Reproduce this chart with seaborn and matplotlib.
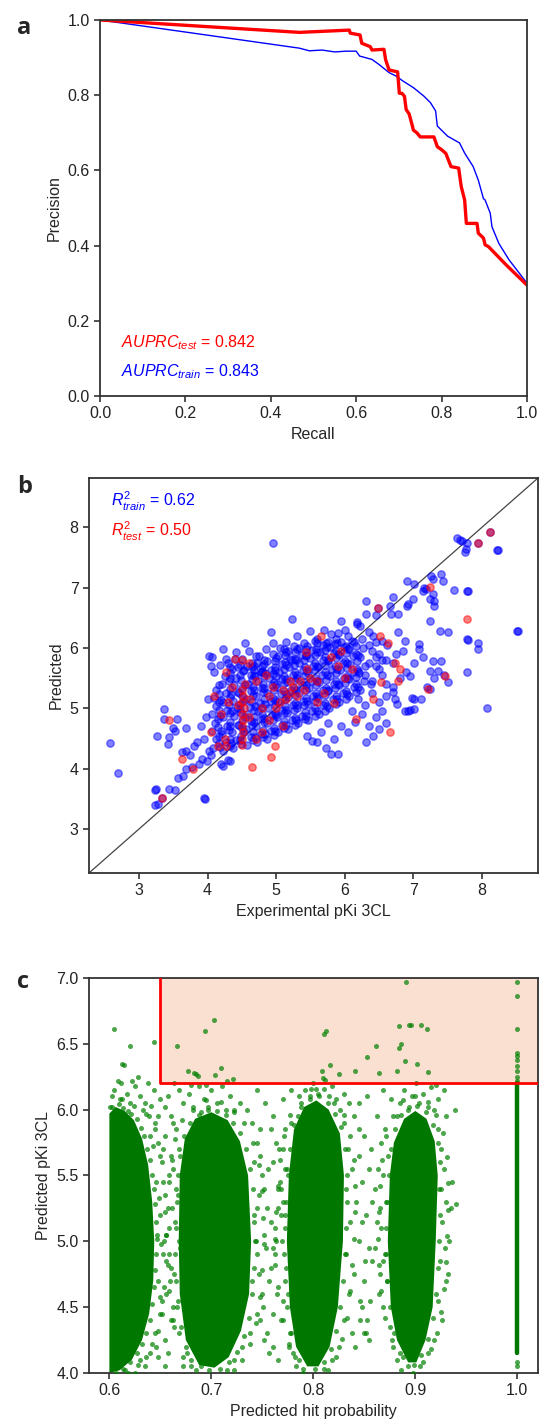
"""Precision-recall, parity plot and hit-probability scatter (3 panels)"""
import numpy as np
import matplotlib
matplotlib.use("Agg")
import matplotlib.pyplot as plt
import seaborn as sns

# ---- panel a: precision-recall curves ----
test_recall = [0.0, 0.467, 0.584, 0.586, 0.609, 0.613, 0.633, 0.637, 0.665, 0.669, 0.677,
               0.697, 0.701, 0.707, 0.713, 0.717, 0.724, 0.730, 0.734, 0.742, 0.750, 0.782,
               0.790, 0.800, 0.810, 0.822, 0.840, 0.846, 0.854, 0.858, 0.883, 0.886, 0.898,
               0.902, 0.910, 0.950, 1.0]
test_precision = [1.0, 0.967, 0.973, 0.965, 0.960, 0.938, 0.929, 0.920, 0.922, 0.894, 0.867,
                  0.862, 0.805, 0.805, 0.797, 0.762, 0.750, 0.725, 0.707, 0.700, 0.689, 0.689,
                  0.663, 0.655, 0.645, 0.610, 0.606, 0.557, 0.521, 0.459, 0.459, 0.433, 0.420,
                  0.402, 0.397, 0.350, 0.295]
train_recall = [0.0, 0.467, 0.49, 0.52, 0.55, 0.576, 0.60, 0.608, 0.637, 0.653, 0.677, 0.693,
                0.709, 0.734, 0.758, 0.774, 0.786, 0.790, 0.814, 0.842, 0.854, 0.874, 0.886,
                0.898, 0.902, 0.914, 0.918, 0.934, 0.958, 1.0]
train_precision = [1.0, 0.925, 0.918, 0.920, 0.915, 0.917, 0.917, 0.904, 0.895, 0.882, 0.860,
                   0.851, 0.838, 0.820, 0.798, 0.780, 0.758, 0.718, 0.691, 0.673, 0.646, 0.610,
                   0.574, 0.525, 0.521, 0.486, 0.450, 0.406, 0.362, 0.300]

# ---- panel b: experimental vs predicted pKi ----
train_core = [
    (4.08, 4.35), (4.12, 4.50), (4.06, 4.62), (4.11, 4.76), (4.07, 4.90), (4.13, 5.04), (4.09, 5.18), (4.12, 5.31),
    (4.22, 4.30), (4.27, 4.44), (4.21, 4.58), (4.28, 4.71), (4.23, 4.85), (4.29, 4.98), (4.22, 5.11), (4.27, 5.25),
    (4.21, 5.40), (4.26, 5.54), (4.37, 4.35), (4.42, 4.48), (4.36, 4.61), (4.44, 4.73), (4.38, 4.87), (4.43, 5.00),
    (4.37, 5.13), (4.44, 5.27), (4.39, 5.39), (4.42, 5.51), (4.36, 5.65), (4.57, 4.40), (4.63, 4.53), (4.56, 4.66),
    (4.64, 4.79), (4.58, 4.91), (4.62, 5.03), (4.56, 5.16), (4.64, 5.29), (4.59, 5.41), (4.63, 5.55), (4.57, 5.70),
    (4.72, 4.45), (4.78, 4.58), (4.71, 4.71), (4.79, 4.83), (4.73, 4.96), (4.77, 5.09), (4.71, 5.21), (4.79, 5.33),
    (4.74, 5.46), (4.78, 5.61), (4.72, 5.75), (4.87, 4.50), (4.93, 4.63), (4.86, 4.76), (4.94, 4.89), (4.88, 5.01),
    (4.92, 5.13), (4.86, 5.26), (4.94, 5.39), (4.89, 5.51), (4.93, 5.63), (4.87, 5.78), (5.02, 4.60), (5.08, 4.73),
    (5.01, 4.86), (5.09, 4.98), (5.03, 5.11), (5.07, 5.23), (5.01, 5.36), (5.09, 5.49), (5.04, 5.61), (5.08, 5.73),
    (5.02, 5.86), (5.17, 4.66), (5.23, 4.80), (5.16, 4.93), (5.24, 5.06), (5.18, 5.19), (5.22, 5.31), (5.16, 5.43),
    (5.24, 5.56), (5.19, 5.69), (5.23, 5.81), (5.17, 5.95), (5.32, 4.75), (5.38, 4.88), (5.31, 5.01), (5.39, 5.13),
    (5.33, 5.26), (5.37, 5.39), (5.31, 5.51), (5.39, 5.63), (5.34, 5.76), (5.38, 5.89), (5.33, 6.00), (5.47, 4.81),
    (5.53, 4.95), (5.46, 5.08), (5.54, 5.21), (5.48, 5.33), (5.52, 5.46), (5.46, 5.59), (5.54, 5.71), (5.49, 5.83),
    (5.53, 5.96), (5.62, 4.90), (5.68, 5.05), (5.61, 5.18), (5.69, 5.31), (5.63, 5.43), (5.67, 5.56), (5.61, 5.69),
    (5.69, 5.81), (5.64, 5.93), (5.68, 6.05), (5.77, 5.00), (5.83, 5.15), (5.76, 5.28), (5.84, 5.41), (5.78, 5.53),
    (5.82, 5.66), (5.76, 5.79), (5.84, 5.91), (5.79, 6.02), (5.92, 5.10), (5.98, 5.25), (5.91, 5.38), (5.99, 5.51),
    (5.93, 5.63), (5.97, 5.76), (5.91, 5.89), (5.99, 6.01), (5.94, 6.10), (6.07, 5.20), (6.13, 5.35), (6.06, 5.48),
    (6.14, 5.61), (6.08, 5.73), (6.12, 5.86), (6.06, 5.98), (6.13, 6.10), (6.22, 5.30), (6.28, 5.45), (6.21, 5.58),
    (6.29, 5.71), (6.23, 5.85), (6.27, 6.00),
]
train_core2 = [
    (4.16, 4.42), (4.15, 4.69), (4.17, 4.97), (4.16, 5.24), (4.32, 4.37), (4.31, 4.64), (4.33, 4.92), (4.32, 5.19),
    (4.31, 5.46), (4.49, 4.41), (4.50, 4.67), (4.48, 4.94), (4.50, 5.20), (4.49, 5.47), (4.51, 5.62), (4.66, 4.47),
    (4.65, 4.73), (4.67, 4.98), (4.66, 5.22), (4.65, 5.48), (4.67, 5.64), (4.81, 4.52), (4.82, 4.77), (4.80, 5.03),
    (4.81, 5.27), (4.82, 5.53), (4.80, 5.70), (4.97, 4.56), (4.96, 4.81), (4.98, 5.06), (4.97, 5.31), (4.96, 5.57),
    (4.98, 5.79), (5.12, 4.67), (5.11, 4.92), (5.13, 5.16), (5.12, 5.42), (5.11, 5.66), (5.13, 5.88), (5.27, 4.72),
    (5.26, 4.97), (5.28, 5.22), (5.27, 5.47), (5.26, 5.72), (5.28, 5.93), (5.42, 4.82), (5.41, 5.06), (5.43, 5.31),
    (5.42, 5.56), (5.41, 5.80), (5.43, 5.98), (5.57, 4.88), (5.56, 5.13), (5.58, 5.38), (5.57, 5.63), (5.56, 5.88),
    (5.72, 4.96), (5.71, 5.22), (5.73, 5.47), (5.72, 5.72), (5.71, 5.97), (5.87, 5.07), (5.86, 5.33), (5.88, 5.58),
    (5.87, 5.83), (5.86, 6.06), (6.02, 5.16), (6.01, 5.42), (6.03, 5.67), (6.02, 5.92), (6.17, 5.27), (6.16, 5.52),
    (6.18, 5.78), (6.17, 6.03),
]
train_core3 = [
    (4.16, 4.55), (4.15, 4.83), (4.17, 5.10), (4.16, 5.38), (4.32, 4.50), (4.33, 4.78), (4.31, 5.05), (4.32, 5.32),
    (4.33, 5.58), (4.49, 4.54), (4.50, 4.80), (4.48, 5.07), (4.50, 5.33), (4.48, 5.72), (4.66, 4.60), (4.67, 4.86),
    (4.65, 5.10), (4.66, 5.35), (4.67, 5.56), (4.65, 5.76), (4.81, 4.64), (4.80, 4.90), (4.82, 5.15), (4.81, 5.40),
    (4.80, 5.62), (4.82, 5.80), (4.97, 4.68), (4.98, 4.93), (4.96, 5.18), (4.97, 5.44), (4.98, 5.68), (4.96, 5.90),
    (5.12, 4.79), (5.13, 5.04), (5.11, 5.29), (5.12, 5.54), (5.13, 5.77), (5.11, 5.98), (5.27, 4.84), (5.28, 5.09),
    (5.26, 5.34), (5.27, 5.60), (5.28, 5.82), (5.26, 6.03), (5.42, 4.94), (5.43, 5.18), (5.41, 5.43), (5.42, 5.68),
    (5.43, 5.89), (5.41, 6.08), (5.57, 5.00), (5.58, 5.25), (5.56, 5.50), (5.57, 5.75), (5.58, 5.98), (5.56, 6.12),
    (5.72, 5.09), (5.73, 5.34), (5.71, 5.60), (5.72, 5.85), (5.73, 6.08), (5.87, 5.20), (5.88, 5.45), (5.86, 5.70),
    (5.87, 5.95), (5.88, 6.15), (6.02, 5.29), (6.03, 5.54), (6.01, 5.79), (6.02, 6.04), (6.17, 5.40), (6.18, 5.65),
    (6.16, 5.90),
]
train_core4 = [
    (4.18, 4.36), (4.19, 4.62), (4.18, 4.88), (4.19, 5.14), (4.34, 4.43), (4.33, 4.70), (4.35, 4.96), (4.34, 5.24),
    (4.33, 5.50), (4.47, 4.47), (4.46, 4.73), (4.47, 4.99), (4.46, 5.26), (4.47, 5.55), (4.53, 4.60), (4.54, 4.86),
    (4.53, 5.12), (4.54, 5.38), (4.53, 5.64), (4.69, 4.52), (4.68, 4.78), (4.69, 5.04), (4.68, 5.30), (4.69, 5.54),
    (4.68, 5.70), (4.84, 4.58), (4.83, 4.84), (4.84, 5.08), (4.83, 5.34), (4.84, 5.58), (4.83, 5.74), (4.99, 4.63),
    (5.00, 4.89), (4.99, 5.14), (5.00, 5.40), (4.99, 5.64), (5.00, 5.84), (5.14, 4.72), (5.15, 4.98), (5.14, 5.24),
    (5.15, 5.48), (5.14, 5.72), (5.15, 5.93), (5.29, 4.80), (5.30, 5.05), (5.29, 5.30), (5.30, 5.56), (5.29, 5.80),
    (5.30, 5.98), (5.44, 4.88), (5.45, 5.12), (5.44, 5.38), (5.45, 5.62), (5.44, 5.86), (5.45, 6.04), (5.59, 4.95),
    (5.60, 5.20), (5.59, 5.45), (5.60, 5.70), (5.59, 5.93), (5.60, 6.08), (5.74, 5.04), (5.75, 5.30), (5.74, 5.55),
    (5.75, 5.80), (5.74, 6.02), (5.89, 5.15), (5.90, 5.40), (5.89, 5.65), (5.90, 5.90), (5.89, 6.08), (6.04, 5.24),
    (6.05, 5.50), (6.04, 5.75), (6.05, 5.98), (6.19, 5.35), (6.20, 5.62), (6.19, 5.88),
]
train_outer = [
    (2.58, 4.43), (2.70, 3.92), (3.23, 3.40), (3.27, 3.41), (3.23, 3.65), (3.25, 3.66), (3.44, 3.66), (3.53, 3.64),
    (3.95, 3.51), (3.96, 3.50), (3.26, 4.55), (3.37, 4.99), (3.37, 4.83), (3.56, 4.83), (3.49, 4.67), (3.52, 4.63),
    (3.69, 4.67), (3.43, 4.52), (3.42, 4.41), (3.57, 3.84), (3.64, 3.88), (3.69, 3.99), (3.77, 4.02), (3.87, 4.08),
    (3.92, 4.16), (3.99, 4.13), (3.69, 4.30), (3.80, 4.38), (4.02, 4.30), (4.05, 4.22), (4.20, 4.08), (4.22, 4.05),
    (4.32, 4.13), (4.30, 4.15), (3.62, 4.28), (3.75, 4.22), (3.85, 4.45), (3.95, 4.50), (3.90, 4.70), (3.98, 4.85),
    (4.00, 5.15), (3.33, 3.52), (4.02, 5.87), (4.07, 5.85), (4.22, 5.98), (4.42, 5.93), (4.27, 5.82), (4.30, 5.76),
    (4.40, 5.82), (4.50, 5.82), (4.70, 5.87), (4.75, 5.87), (4.10, 5.60), (4.32, 5.68), (4.45, 5.68), (4.65, 5.68),
    (4.80, 5.60), (4.55, 6.09), (4.95, 6.09), (4.93, 6.26), (5.00, 5.54), (5.20, 5.82), (4.18, 5.72), (4.05, 5.70),
    (4.60, 5.95), (4.85, 5.98), (5.05, 6.00), (5.15, 6.10), (5.30, 6.20), (5.23, 6.48), (4.96, 7.75), (5.50, 6.29),
    (5.80, 6.23), (5.60, 6.15), (5.70, 6.30), (5.75, 6.10), (5.90, 6.25), (6.00, 6.30), (5.95, 6.45), (6.05, 6.20),
    (6.11, 6.12), (6.18, 6.40), (6.18, 6.43), (6.23, 6.37), (6.36, 6.26), (6.41, 6.20), (6.31, 6.78), (6.46, 6.54),
    (6.31, 6.56), (6.25, 6.15), (6.35, 6.05), (6.45, 6.10), (6.55, 6.12), (6.62, 6.05), (6.66, 6.70), (6.68, 6.56),
    (6.78, 6.56), (6.71, 6.84), (6.78, 6.26), (6.88, 6.12), (6.91, 6.70), (6.93, 6.73), (7.00, 6.81), (6.91, 7.12),
    (7.01, 7.06), (7.14, 6.95), (7.16, 7.00), (7.19, 6.98), (7.26, 7.20), (7.29, 7.14), (7.41, 7.23), (7.44, 7.12),
    (7.24, 6.81), (7.29, 6.90), (7.31, 6.78), (7.31, 6.70), (7.24, 6.45), (7.59, 6.97), (7.79, 6.95), (7.80, 6.94),
    (7.39, 6.29), (7.51, 6.26), (7.79, 6.15), (7.80, 6.14), (7.94, 6.09), (7.94, 5.98), (8.52, 6.29), (8.53, 6.29),
    (7.64, 7.83), (7.68, 7.80), (7.71, 7.78), (7.79, 7.75), (7.76, 7.59), (7.77, 7.64), (8.22, 7.63), (8.23, 7.62),
    (7.94, 7.75), (8.12, 7.93), (6.48, 6.67), (6.35, 5.75), (6.45, 5.85), (6.40, 5.95), (6.50, 5.65), (6.55, 5.80),
    (6.30, 5.55), (6.38, 5.40), (6.50, 5.90), (6.60, 5.80), (6.70, 5.75), (6.75, 5.90), (6.85, 5.95), (7.09, 6.07),
    (7.09, 5.98), (7.01, 5.76), (7.14, 5.85), (7.29, 5.79), (7.41, 5.79), (7.24, 5.62), (7.36, 5.62), (7.79, 5.60),
    (6.96, 5.54), (6.90, 5.60), (6.45, 5.70), (6.55, 5.55), (6.40, 5.45), (6.60, 5.40), (6.70, 5.35), (6.80, 5.50),
    (6.88, 4.96), (6.93, 4.96), (6.96, 4.97), (7.01, 4.99), (7.01, 5.15), (6.98, 5.18), (6.71, 5.27), (6.73, 5.15),
    (6.76, 5.07), (7.11, 5.15), (7.24, 5.32), (7.51, 5.43), (8.07, 5.00), (6.31, 4.44), (6.41, 4.55), (6.50, 4.65),
    (6.45, 4.85), (6.55, 4.95), (6.60, 4.75), (6.35, 4.70), (6.25, 4.90), (6.30, 5.05), (6.50, 5.10), (6.60, 5.20),
    (6.40, 5.25), (6.20, 5.15), (6.15, 4.78), (6.10, 4.95), (5.53, 4.46), (5.60, 4.44), (5.73, 4.35), (5.80, 4.24),
    (5.90, 4.24), (5.45, 4.55), (5.65, 4.60), (5.85, 4.50), (5.95, 4.70), (6.05, 4.60), (5.75, 4.75), (7.20, 5.35),
    (7.30, 5.50), (7.45, 5.55),
]
test_pts = [
    (7.94, 7.75), (8.12, 7.93), (7.24, 7.01), (6.48, 6.67), (7.79, 6.48), (5.65, 6.20), (4.40, 5.82), (4.50, 5.80),
    (4.27, 5.60), (4.60, 5.76), (5.43, 5.93), (6.51, 6.20), (6.63, 6.09), (6.81, 5.65), (6.73, 5.76), (7.46, 5.54),
    (3.33, 3.52), (3.44, 4.80), (3.62, 4.16), (3.79, 3.99), (4.27, 4.38), (4.15, 4.38), (4.65, 4.02), (4.92, 4.19),
    (4.98, 4.38), (6.66, 4.60), (6.41, 5.15), (6.16, 4.83), (6.78, 5.46), (7.21, 5.32), (6.53, 5.44), (5.85, 5.09),
    (4.50, 4.40), (4.50, 4.50), (4.52, 4.60), (4.50, 4.70), (4.52, 4.80), (4.50, 4.90), (4.53, 5.00), (4.50, 5.10),
    (4.52, 5.20), (4.50, 5.30), (4.55, 5.40), (4.45, 5.05), (4.60, 4.85), (4.62, 5.15), (5.00, 5.00), (5.05, 5.10),
    (5.10, 5.30), (5.20, 5.25), (5.25, 5.35), (5.30, 5.20), (5.35, 5.45), (5.20, 5.45), (5.15, 5.15), (4.90, 5.20),
    (4.80, 5.00), (5.40, 5.30), (5.50, 5.50), (5.60, 5.45), (5.70, 5.25), (5.60, 5.10), (4.80, 4.60), (4.70, 4.50),
    (4.90, 4.80), (5.10, 4.70), (4.20, 4.90), (4.10, 5.20), (4.30, 5.10), (4.35, 5.35), (4.05, 4.60), (5.90, 5.70),
    (6.00, 5.50), (5.80, 5.85), (5.45, 5.65), (5.95, 5.95), (6.10, 5.65), (4.70, 5.45), (4.85, 5.55), (4.95, 5.35),
    (4.25, 4.50),
]

# ---- panel c: hit probability vs predicted pKi ----
core_06 = [(0.600, 4.00), (0.600, 5.97), (0.606, 6.02), (0.615, 5.99), (0.624, 5.92), (0.632, 5.78),
           (0.638, 5.58), (0.642, 5.30), (0.644, 5.00), (0.643, 4.70), (0.639, 4.45), (0.632, 4.25),
           (0.622, 4.10), (0.610, 4.02)]
core_07 = [(0.688, 4.06), (0.675, 4.25), (0.669, 4.60), (0.668, 5.00), (0.669, 5.50), (0.674, 5.78),
           (0.684, 5.93), (0.700, 5.98), (0.716, 5.92), (0.728, 5.76), (0.736, 5.50), (0.739, 5.00),
           (0.737, 4.60), (0.729, 4.32), (0.717, 4.12), (0.703, 4.04)]
core_08 = [(0.794, 4.05), (0.783, 4.20), (0.777, 4.50), (0.774, 5.00), (0.776, 5.50), (0.781, 5.85),
           (0.791, 6.02), (0.803, 6.07), (0.815, 6.00), (0.826, 5.82), (0.830, 5.50), (0.829, 5.00),
           (0.824, 4.50), (0.816, 4.20), (0.805, 4.05)]
core_09 = [(0.893, 4.08), (0.882, 4.25), (0.876, 4.50), (0.873, 5.00), (0.875, 5.50), (0.879, 5.75),
           (0.889, 5.93), (0.900, 5.99), (0.911, 5.93), (0.919, 5.76), (0.922, 5.50), (0.920, 5.00),
           (0.917, 4.50), (0.910, 4.25), (0.901, 4.08)]
col_10_x = [1.0, 1.0]
col_10_y = [4.15, 6.20]
edge_06 = [
    (0.603, 6.02), (0.609, 6.04), (0.613, 6.01), (0.621, 5.97), (0.627, 5.93), (0.631, 5.86), (0.634, 5.80),
    (0.637, 5.70), (0.640, 5.62), (0.642, 5.50), (0.644, 5.40), (0.645, 5.28), (0.646, 5.15), (0.647, 5.02),
    (0.646, 4.90), (0.645, 4.78), (0.644, 4.65), (0.642, 4.52), (0.640, 4.40), (0.636, 4.30), (0.632, 4.22),
    (0.627, 4.15), (0.620, 4.08), (0.613, 4.03), (0.606, 4.00), (0.639, 5.95), (0.643, 5.72), (0.649, 5.33),
    (0.651, 4.98), (0.650, 4.58), (0.646, 4.20),
]
edge_07 = [
    (0.672, 4.12), (0.680, 4.05), (0.668, 4.30), (0.666, 4.50), (0.665, 4.70), (0.664, 4.90), (0.665, 5.10),
    (0.666, 5.30), (0.667, 5.50), (0.669, 5.65), (0.673, 5.80), (0.679, 5.90), (0.688, 5.96), (0.697, 6.00),
    (0.706, 5.99), (0.714, 5.96), (0.721, 5.90), (0.728, 5.82), (0.734, 5.70), (0.738, 5.55), (0.741, 5.40),
    (0.742, 5.20), (0.743, 5.00), (0.742, 4.80), (0.740, 4.60), (0.737, 4.42), (0.732, 4.28), (0.725, 4.16),
    (0.717, 4.08), (0.708, 4.03), (0.698, 4.02), (0.690, 4.05),
]
edge_08 = [
    (0.790, 4.03), (0.782, 4.12), (0.777, 4.30), (0.774, 4.50), (0.772, 4.70), (0.771, 4.90), (0.772, 5.10),
    (0.773, 5.30), (0.775, 5.50), (0.777, 5.70), (0.781, 5.88), (0.788, 6.02), (0.797, 6.08), (0.806, 6.10),
    (0.814, 6.05), (0.821, 5.97), (0.827, 5.87), (0.831, 5.70), (0.833, 5.50), (0.833, 5.30), (0.832, 5.10),
    (0.831, 4.90), (0.829, 4.70), (0.826, 4.50), (0.822, 4.32), (0.817, 4.18), (0.810, 4.08), (0.802, 4.03),
]
edge_09 = [
    (0.893, 4.05), (0.885, 4.15), (0.879, 4.30), (0.875, 4.50), (0.872, 4.70), (0.871, 4.90), (0.871, 5.10),
    (0.872, 5.30), (0.874, 5.50), (0.876, 5.70), (0.880, 5.85), (0.886, 5.96), (0.894, 6.02), (0.902, 6.03),
    (0.910, 5.98), (0.917, 5.88), (0.922, 5.75), (0.924, 5.60), (0.925, 5.40), (0.924, 5.20), (0.923, 5.00),
    (0.922, 4.80), (0.920, 4.60), (0.917, 4.42), (0.912, 4.26), (0.906, 4.14), (0.899, 4.06),
]
halo_pts = [
    (0.612, 6.08), (0.624, 6.03), (0.636, 5.97), (0.645, 5.85), (0.650, 5.65), (0.653, 5.45), (0.655, 5.22),
    (0.656, 5.05), (0.656, 4.85), (0.654, 4.65), (0.652, 4.45), (0.648, 4.32), (0.642, 4.22), (0.636, 4.12),
    (0.628, 4.06), (0.618, 4.00), (0.676, 4.15), (0.662, 4.40), (0.658, 4.62), (0.657, 4.82), (0.656, 5.05),
    (0.657, 5.25), (0.658, 5.45), (0.661, 5.62), (0.664, 5.78), (0.671, 5.92), (0.682, 6.02), (0.695, 6.07),
    (0.709, 6.06), (0.722, 6.00), (0.732, 5.90), (0.741, 5.75), (0.747, 5.58), (0.750, 5.38), (0.751, 5.18),
    (0.752, 4.98), (0.750, 4.78), (0.748, 4.58), (0.744, 4.38), (0.738, 4.22), (0.730, 4.10), (0.722, 4.02),
    (0.786, 4.10), (0.776, 4.22), (0.768, 4.40), (0.764, 4.60), (0.762, 4.82), (0.762, 5.02), (0.763, 5.22),
    (0.765, 5.42), (0.767, 5.62), (0.771, 5.80), (0.777, 5.96), (0.786, 6.10), (0.798, 6.16), (0.810, 6.16),
    (0.822, 6.08), (0.830, 5.96), (0.836, 5.80), (0.840, 5.62), (0.841, 5.42), (0.841, 5.22), (0.840, 5.02),
    (0.838, 4.82), (0.836, 4.62), (0.833, 4.42), (0.828, 4.26), (0.822, 4.12), (0.814, 4.02), (0.888, 4.12),
    (0.877, 4.25), (0.870, 4.42), (0.866, 4.62), (0.864, 4.82), (0.863, 5.02), (0.864, 5.22), (0.865, 5.42),
    (0.867, 5.62), (0.871, 5.80), (0.878, 5.95), (0.888, 6.07), (0.900, 6.10), (0.912, 6.06), (0.920, 5.96),
    (0.927, 5.82), (0.931, 5.64), (0.932, 5.44), (0.932, 5.24), (0.931, 5.04), (0.930, 4.84), (0.928, 4.64),
    (0.925, 4.46), (0.921, 4.30), (0.915, 4.18), (0.908, 4.08),
]
gap_pts = [
    (0.655, 5.80), (0.658, 5.50), (0.661, 5.25), (0.654, 5.00), (0.659, 4.70), (0.652, 4.55), (0.660, 4.40),
    (0.655, 4.05), (0.662, 5.90), (0.657, 6.10), (0.663, 6.20), (0.653, 5.70), (0.748, 5.65), (0.752, 5.40),
    (0.756, 5.55), (0.758, 5.15), (0.754, 4.95), (0.757, 4.70), (0.751, 4.50), (0.760, 4.45), (0.763, 5.75),
    (0.767, 5.45), (0.768, 5.20), (0.765, 4.65), (0.745, 5.25), (0.744, 5.00), (0.747, 4.75), (0.753, 6.05),
    (0.760, 5.95), (0.770, 6.08), (0.778, 6.15), (0.745, 6.15), (0.757, 4.15), (0.765, 4.10), (0.770, 4.55),
    (0.763, 5.00), (0.758, 5.85), (0.845, 5.85), (0.848, 5.15), (0.851, 4.85), (0.856, 4.55), (0.860, 4.95),
    (0.863, 5.55), (0.857, 5.70), (0.865, 5.25), (0.850, 4.30), (0.855, 4.25), (0.846, 4.40), (0.868, 4.85),
]
spread_06 = [
    (0.601, 6.02), (0.603, 6.10), (0.605, 6.15), (0.608, 6.22), (0.611, 6.20), (0.612, 6.35), (0.614, 6.34),
    (0.610, 6.08), (0.617, 6.12), (0.620, 6.05), (0.622, 6.22), (0.625, 6.18), (0.628, 6.25), (0.630, 6.10),
    (0.633, 6.00), (0.635, 6.05), (0.638, 6.20), (0.644, 6.15), (0.605, 6.613), (0.620, 6.481), (0.644, 6.514),
    (0.641, 6.03), (0.618, 5.99), (0.650, 6.08), (0.655, 6.02), (0.648, 5.95), (0.645, 5.90), (0.648, 5.75),
    (0.652, 5.60), (0.646, 5.45), (0.655, 5.35), (0.650, 5.20), (0.658, 5.10), (0.647, 5.05), (0.653, 4.90),
    (0.660, 4.80), (0.648, 4.70), (0.656, 4.60), (0.662, 4.50), (0.650, 4.45), (0.645, 4.30), (0.655, 4.25),
    (0.640, 4.15), (0.648, 4.12), (0.635, 4.05), (0.625, 4.00), (0.615, 4.02), (0.665, 5.40), (0.668, 5.00),
    (0.663, 4.35), (0.640, 5.80), (0.660, 5.65), (0.657, 4.15), (0.630, 4.10),
]
spread_07 = [
    (0.666, 6.486), (0.677, 6.296), (0.683, 6.278), (0.685, 6.270), (0.687, 6.258), (0.694, 6.600),
    (0.703, 6.684), (0.704, 6.266), (0.709, 6.316), (0.721, 6.233), (0.668, 6.15), (0.672, 6.05), (0.678, 6.12),
    (0.682, 6.00), (0.688, 6.18), (0.693, 6.08), (0.697, 6.02), (0.700, 6.15), (0.706, 6.05), (0.710, 6.18),
    (0.714, 6.00), (0.718, 6.10), (0.722, 5.98), (0.728, 6.05), (0.690, 5.98), (0.715, 6.22), (0.695, 6.19),
    (0.680, 6.19), (0.665, 5.85), (0.668, 5.70), (0.662, 5.55), (0.667, 5.35), (0.664, 5.15), (0.669, 4.95),
    (0.663, 4.75), (0.667, 4.55), (0.670, 4.35), (0.675, 4.20), (0.680, 4.10), (0.672, 4.05), (0.685, 4.02),
    (0.660, 5.95), (0.658, 4.90), (0.740, 5.90), (0.745, 5.75), (0.742, 5.60), (0.750, 5.50), (0.747, 5.35),
    (0.755, 5.25), (0.742, 5.15), (0.752, 5.05), (0.745, 4.90), (0.758, 4.80), (0.740, 4.70), (0.750, 4.60),
    (0.745, 4.45), (0.738, 4.30), (0.730, 4.20), (0.722, 4.10), (0.715, 4.02), (0.735, 6.00), (0.748, 5.85),
    (0.760, 5.60), (0.765, 5.40), (0.762, 5.10), (0.770, 5.30), (0.755, 4.30), (0.752, 4.25), (0.760, 4.20),
    (0.748, 4.40), (0.766, 5.70), (0.772, 5.55), (0.760, 4.95),
]
spread_08 = [
    (0.810, 6.577), (0.812, 6.595), (0.808, 6.291), (0.809, 6.240), (0.811, 6.228), (0.816, 6.342),
    (0.825, 6.273), (0.788, 6.05), (0.792, 6.15), (0.797, 6.10), (0.800, 6.20), (0.805, 6.12), (0.815, 6.10),
    (0.820, 6.05), (0.826, 6.00), (0.830, 6.12), (0.835, 6.05), (0.785, 5.95), (0.778, 5.90), (0.772, 5.85),
    (0.840, 5.95), (0.803, 6.16), (0.818, 6.18), (0.770, 5.70), (0.774, 5.55), (0.768, 5.40), (0.772, 5.20),
    (0.769, 5.00), (0.773, 4.80), (0.775, 4.60), (0.770, 4.40), (0.778, 4.30), (0.780, 4.15), (0.783, 4.05),
    (0.790, 4.00), (0.765, 5.25), (0.762, 4.90), (0.776, 4.20), (0.830, 5.90), (0.834, 5.70), (0.838, 5.55),
    (0.832, 5.40), (0.842, 5.30), (0.836, 5.15), (0.845, 5.00), (0.832, 4.90), (0.840, 4.75), (0.835, 4.60),
    (0.848, 4.50), (0.830, 4.40), (0.838, 4.30), (0.825, 4.20), (0.818, 4.10), (0.810, 4.03), (0.848, 5.45),
    (0.852, 5.20), (0.855, 4.95), (0.850, 4.70), (0.858, 5.30), (0.846, 4.55), (0.852, 4.30), (0.841, 4.20),
    (0.845, 5.65), (0.850, 5.80), (0.855, 5.55), (0.860, 5.40), (0.862, 5.15), (0.858, 4.85), (0.864, 4.60),
    (0.853, 4.40), (0.866, 5.75), (0.862, 5.95), (0.853, 6.10), (0.845, 6.05), (0.841, 6.296), (0.853, 6.400),
    (0.861, 6.481), (0.864, 6.278), (0.868, 6.15),
]
spread_09 = [
    (0.882, 6.296), (0.884, 6.468), (0.886, 6.499), (0.884, 6.638), (0.891, 6.967), (0.890, 6.372),
    (0.894, 6.646), (0.896, 6.646), (0.902, 6.349), (0.906, 6.646), (0.911, 6.613), (0.912, 6.284),
    (0.885, 6.05), (0.889, 6.15), (0.893, 6.00), (0.897, 6.10), (0.901, 6.20), (0.904, 6.05), (0.908, 6.12),
    (0.912, 6.02), (0.915, 6.17), (0.918, 6.00), (0.922, 6.08), (0.928, 6.15), (0.882, 5.95), (0.876, 6.08),
    (0.930, 5.95), (0.939, 6.00), (0.920, 6.19), (0.870, 5.85), (0.873, 5.65), (0.868, 5.50), (0.871, 5.30),
    (0.866, 5.10), (0.870, 4.90), (0.872, 4.70), (0.868, 4.50), (0.875, 4.35), (0.878, 4.20), (0.882, 4.10),
    (0.886, 4.02), (0.865, 4.75), (0.922, 5.85), (0.925, 5.70), (0.928, 5.55), (0.923, 5.40), (0.930, 5.30),
    (0.926, 5.15), (0.933, 5.00), (0.924, 4.85), (0.930, 4.70), (0.922, 4.55), (0.926, 4.40), (0.918, 4.25),
    (0.912, 4.15), (0.905, 4.05), (0.898, 4.00), (0.935, 5.25), (0.940, 5.28), (0.932, 4.75), (0.936, 5.45),
    (0.929, 4.95),
]
spread_10 = [(1.0, 6.967), (1.0, 6.866), (1.0, 6.613), (1.0, 6.43), (1.0, 6.405), (1.0, 6.38), (1.0, 6.33),
             (1.0, 6.29), (1.0, 6.25), (1.0, 6.22), (1.0, 4.08), (1.0, 4.05)]
box_x = [0.65, 1.05]
box_y = [6.2, 7.0]

# ---- style ----
sns.set_style("ticks")
plt.rcParams["font.family"] = ["Liberation Sans", "DejaVu Sans"]
plt.rcParams["mathtext.fontset"] = "custom"
plt.rcParams["mathtext.rm"] = "Liberation Sans"
plt.rcParams["mathtext.it"] = "Liberation Sans:italic"
plt.rcParams["axes.edgecolor"] = "#333333"
plt.rcParams["axes.linewidth"] = 1.3
plt.rcParams["xtick.color"] = "#333333"
plt.rcParams["ytick.color"] = "#333333"
plt.rcParams["xtick.labelcolor"] = "#222222"
plt.rcParams["ytick.labelcolor"] = "#222222"
plt.rcParams["xtick.major.size"] = 4
plt.rcParams["ytick.major.size"] = 4
FS = 11.5

fig = plt.figure(figsize=(5.4, 14.26), dpi=100)
ax_a = fig.add_axes([0.1852, 0.7223, 0.7907, 0.2637])
ax_b = fig.add_axes([0.1648, 0.3878, 0.8315, 0.2770])
ax_c = fig.add_axes([0.1648, 0.0372, 0.8315, 0.2770])

# panel a
sns.lineplot(x=train_recall, y=train_precision, sort=False, estimator=None, color="blue", lw=1.0, ax=ax_a)
sns.lineplot(x=test_recall, y=test_precision, sort=False, estimator=None, color="red", lw=2.4, ax=ax_a)
ax_a.set_xlim(0, 1)
ax_a.set_ylim(0, 1)
ax_a.set_xticks(np.arange(0, 1.01, 0.2))
ax_a.set_yticks(np.arange(0, 1.01, 0.2))
ax_a.set_xlabel("Recall", fontsize=FS)
ax_a.set_ylabel("Precision", fontsize=FS)
ax_a.text(0.048, 0.142, r"$AUPRC_{test}$ = 0.842", color="red", fontsize=FS, va="center", transform=ax_a.transAxes)
ax_a.text(0.048, 0.065, r"$AUPRC_{train}$ = 0.843", color="blue", fontsize=FS, va="center", transform=ax_a.transAxes)

# panel b
lims = [2.27, 8.82]
ax_b.plot(lims, lims, color="#444444", lw=0.9, zorder=1)
tr = np.array(train_core + train_core2 + train_core3 + train_core4 + train_outer)
te = np.array(test_pts)
sns.scatterplot(x=tr[:, 0], y=tr[:, 1], color="blue", alpha=0.5, s=28, edgecolor="blue", linewidth=1.0, ax=ax_b, zorder=2)
sns.scatterplot(x=te[:, 0], y=te[:, 1], color="red", alpha=0.5, s=28, edgecolor="red", linewidth=1.0, ax=ax_b, zorder=3)
ax_b.set_xlim(lims)
ax_b.set_ylim(lims)
ax_b.set_xticks(range(3, 9))
ax_b.set_yticks(range(3, 9))
ax_b.set_xlabel("Experimental pKi 3CL", fontsize=FS)
ax_b.set_ylabel("Predicted", fontsize=FS)
ax_b.text(0.05, 0.94, r"$R^2_{train}$ = 0.62", color="blue", fontsize=FS, va="center", transform=ax_b.transAxes)
ax_b.text(0.05, 0.865, r"$R^2_{test}$ = 0.50", color="red", fontsize=FS, va="center", transform=ax_b.transAxes)

# panel c
ax_c.fill_between(box_x, box_y[0], box_y[1], facecolor="#f9e0d0", edgecolor="none", zorder=0)
ax_c.plot([box_x[0], box_x[0], box_x[1]], [box_y[1], box_y[0], box_y[0]], color="red", lw=2, zorder=4)
for core in [core_06, core_07, core_08, core_09]:
    c = np.array(core)
    ax_c.fill(c[:, 0], c[:, 1], color="#007800", lw=0, zorder=2)
ax_c.plot(col_10_x, col_10_y, color="#007800", lw=3.2, solid_capstyle="round", zorder=2)
sp = np.array(edge_06 + edge_07 + edge_08 + edge_09 + halo_pts + gap_pts
              + spread_06 + spread_07 + spread_08 + spread_09 + spread_10)
sns.scatterplot(x=sp[:, 0], y=sp[:, 1], color="green", alpha=0.7, s=13, linewidth=0, ax=ax_c, zorder=3)
ax_c.set_xlim(0.58, 1.0203)
ax_c.set_ylim(4.0, 7.0)
ax_c.set_xticks([0.6, 0.7, 0.8, 0.9, 1.0])
ax_c.set_yticks(np.arange(4.0, 7.01, 0.5))
ax_c.set_xlabel("Predicted hit probability", fontsize=FS)
ax_c.set_ylabel("Predicted pKi 3CL", fontsize=FS)

for ax in [ax_a, ax_b, ax_c]:
    ax.tick_params(labelsize=FS, width=1.2)

# panel letters
for lab, ypx in [("a", 28), ("b", 487), ("c", 982)]:
    fig.text(0.032, 1 - ypx / 1426, lab, fontsize=17, fontweight="bold", family="Open Sans", va="center")

fig.savefig("out.png", dpi=100)
